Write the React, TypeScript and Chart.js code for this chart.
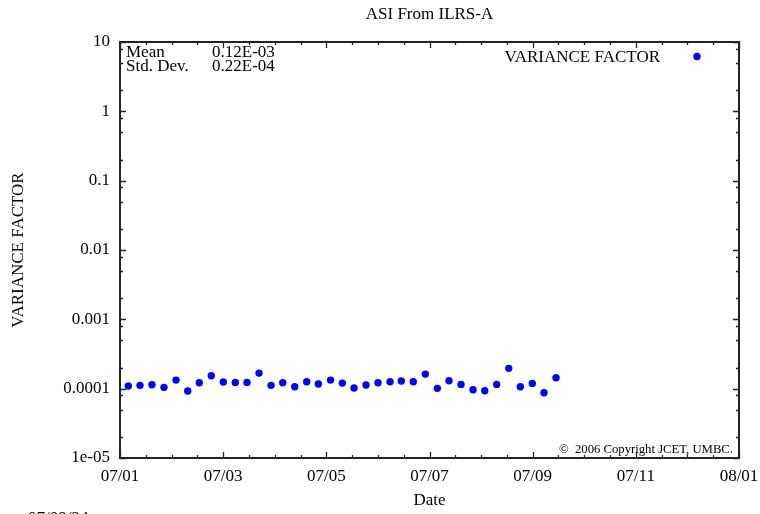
import React, { useEffect, useRef } from "react";
import { Chart, registerables } from "chart.js";

Chart.register(...registerables);

const CHART_TITLE = "ASI From ILRS-A";
const SERIES_LABEL = "VARIANCE FACTOR";
const X_TITLE = "Date";
const Y_TITLE = "VARIANCE FACTOR";

const xTickValues = [0, 2, 4, 6, 8, 10, 12];
const xTickLabels = ["07/01", "07/03", "07/05", "07/07", "07/09", "07/11", "08/01"];
const xMinorStep = 0.5;

const yTickValues = [0.00001, 0.0001, 0.001, 0.01, 0.1, 1, 10];
const yTickLabels = ["1e-05", "0.0001", "0.001", "0.01", "0.1", "1", "10"];
const yMinorFactors = [2, 5, 8];

const dayOffsets = [
  0.161, 0.388, 0.62, 0.853, 1.086, 1.313, 1.537, 1.77, 2.003, 2.235, 2.462, 2.695,
  2.928, 3.155, 3.387, 3.62, 3.845, 4.081, 4.31, 4.537, 4.769, 5.002, 5.235, 5.454,
  5.686, 5.919, 6.152, 6.378, 6.611, 6.844, 7.071, 7.303, 7.536, 7.761, 7.993, 8.22,
  8.453,
];

const varianceFactor = [
  1.09e-4, 1.116e-4, 1.138e-4, 1.044e-4, 1.33e-4, 0.924e-4, 1.216e-4, 1.535e-4,
  1.245e-4, 1.232e-4, 1.232e-4, 1.678e-4, 1.116e-4, 1.216e-4, 1.065e-4, 1.257e-4,
  1.165e-4, 1.33e-4, 1.204e-4, 1.02e-4, 1.127e-4, 1.216e-4, 1.257e-4, 1.287e-4,
  1.257e-4, 1.623e-4, 1.01e-4, 1.3e-4, 1.153e-4, 0.964e-4, 0.933e-4, 1.153e-4,
  1.962e-4, 1.065e-4, 1.192e-4, 0.873e-4, 1.436e-4,
];

const statsLabels = ["Mean", "Std. Dev."];
const statsValues = ["0.12E-03", "0.22E-04"];
const COPYRIGHT = "\u00A9  2006 Copyright JCET, UMBC.";
const DATE_STAMP = "07/09/24";

const FONT = "'Liberation Serif', 'Times New Roman', serif";
const POINT_COLOR = "#0000ff";

const framePlugin = {
  id: "gnuplotFrame",
  afterDraw(chart: any) {
    const { ctx, chartArea } = chart;
    const { left, right, top, bottom } = chartArea;
    const xs = chart.scales.x;
    const ys = chart.scales.y;
    ctx.save();
    ctx.strokeStyle = "#222";
    ctx.lineWidth = 2;
    ctx.strokeRect(left, top, right - left, bottom - top);

    ctx.lineWidth = 1.3;
    ctx.beginPath();
    const xmin = xTickValues[0];
    const xmax = xTickValues[xTickValues.length - 1];
    for (let v = xmin; v <= xmax + 1e-9; v += xMinorStep) {
      const major = xTickValues.some((t) => Math.abs(t - v) < 1e-9);
      const len = major ? 6 : 3;
      const px = Math.round(xs.getPixelForValue(v)) + 0.5;
      ctx.moveTo(px, bottom);
      ctx.lineTo(px, bottom - len);
      ctx.moveTo(px, top);
      ctx.lineTo(px, top + len);
    }
    for (let i = 0; i < yTickValues.length; i++) {
      const d = yTickValues[i];
      const py = Math.round(ys.getPixelForValue(d)) + 0.5;
      ctx.moveTo(left, py);
      ctx.lineTo(left + 6, py);
      ctx.moveTo(right, py);
      ctx.lineTo(right - 6, py);
      if (i < yTickValues.length - 1) {
        for (const f of yMinorFactors) {
          const my = Math.round(ys.getPixelForValue(d * f)) + 0.5;
          ctx.moveTo(left, my);
          ctx.lineTo(left + 3, my);
          ctx.moveTo(right, my);
          ctx.lineTo(right - 3, my);
        }
      }
    }
    ctx.stroke();

    ctx.fillStyle = "#000";
    ctx.textBaseline = "alphabetic";
    ctx.textAlign = "left";
    ctx.font = `17px ${FONT}`;
    statsLabels.forEach((lab, i) => {
      const by = top + 15 + i * 14;
      ctx.fillText(lab, left + 6, by);
      ctx.fillText(statsValues[i], left + 92, by);
    });

    const ds = chart.data.datasets[0];
    ctx.textAlign = "right";
    ctx.fillText(ds.label, right - 79, top + 20);
    ctx.fillStyle = ds.backgroundColor;
    ctx.beginPath();
    ctx.arc(right - 42, top + 14.5, ds.pointRadius, 0, Math.PI * 2);
    ctx.fill();

    ctx.fillStyle = "#000";
    ctx.font = `12.7px ${FONT}`;
    ctx.textAlign = "right";
    ctx.fillText(COPYRIGHT, right - 6, bottom - 5.5);

    ctx.font = `17px ${FONT}`;
    ctx.textAlign = "left";
    ctx.fillText(DATE_STAMP, 28, 523);
    ctx.restore();
  },
};

export default function App() {
  const canvasRef = useRef<HTMLCanvasElement | null>(null);

  useEffect(() => {
    if (!canvasRef.current) return;
    const points = dayOffsets.map((x, i) => ({ x, y: varianceFactor[i] }));
    const chart = new Chart(canvasRef.current, {
      type: "scatter",
      data: {
        datasets: [
          {
            label: SERIES_LABEL,
            data: points,
            backgroundColor: POINT_COLOR,
            borderColor: POINT_COLOR,
            borderWidth: 0,
            pointRadius: 3.7,
            showLine: false,
          } as any,
        ],
      },
      options: {
        animation: false,
        responsive: false,
        devicePixelRatio: 1,
        layout: { padding: { left: 0, right: 21, top: 0, bottom: 0 } },
        plugins: {
          legend: { display: false },
          tooltip: { enabled: false },
          title: {
            display: true,
            text: CHART_TITLE,
            color: "#000",
            fullSize: false,
            font: { family: FONT, size: 17, weight: "normal" },
            padding: { top: 4, bottom: 17.6 },
          },
        },
        scales: {
          x: {
            type: "linear",
            min: xTickValues[0],
            max: xTickValues[xTickValues.length - 1],
            grid: { display: false, drawTicks: false },
            border: { display: false },
            afterBuildTicks: (scale: any) => {
              scale.ticks = xTickValues.map((v) => ({ value: v }));
            },
            afterFit: (scale: any) => {
              scale.height = 56;
              scale.paddingLeft = 0;
              scale.paddingRight = 0;
            },
            ticks: {
              autoSkip: false,
              maxRotation: 0,
              padding: 8,
              color: "#000",
              font: { family: FONT, size: 17 },
              callback: (_v: any, i: number) => xTickLabels[i],
            },
            title: {
              display: true,
              text: X_TITLE,
              color: "#000",
              font: { family: FONT, size: 17 },
              padding: { top: 0, bottom: 2.8 },
            },
          },
          y: {
            type: "logarithmic",
            min: yTickValues[0],
            max: yTickValues[yTickValues.length - 1],
            grid: { display: false, drawTicks: false },
            border: { display: false },
            afterBuildTicks: (scale: any) => {
              scale.ticks = yTickValues.map((v) => ({ value: v, major: false }));
            },
            afterFit: (scale: any) => {
              scale.width = 120;
              scale.paddingTop = 0;
              scale.paddingBottom = 0;
            },
            ticks: {
              autoSkip: false,
              padding: 10,
              color: "#000",
              font: { family: FONT, size: 17 },
              callback: (_v: any, i: number) => yTickLabels[i],
            },
            title: {
              display: true,
              text: Y_TITLE,
              color: "#000",
              font: { family: FONT, size: 17 },
              padding: { top: 8, bottom: 0 },
            },
          },
        },
      },
      plugins: [framePlugin],
    });
    return () => chart.destroy();
  }, []);

  return (
    <div style={{ position: "absolute", left: 0, top: 0, width: 760, height: 514, background: "#fff" }}>
      <canvas ref={canvasRef} width={760} height={514} style={{ display: "block" }} />
    </div>
  );
}
